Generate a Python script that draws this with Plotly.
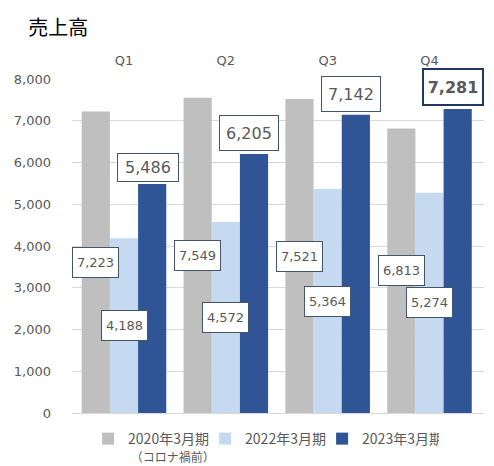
import plotly.graph_objs as go

# 売上高 by quarter (百万円)
quarters = ["Q1", "Q2", "Q3", "Q4"]
sales_2020 = [7223, 7549, 7521, 6813]
sales_2022 = [4188, 4572, 5364, 5274]
sales_2023 = [5486, 6205, 7142, 7281]
series_names = ["2020年3月期<br><span style='font-size:12px'> （コロナ禍前）</span>",
                "2022年3月期", "2023年3月期"]
y_ticks = [0, 1000, 2000, 3000, 4000, 5000, 6000, 7000, 8000]

colors = ["#BFBFBF", "#C5D9F1", "#2F5597"]
label_color = "#595959"
num_font = "Verdana, DejaVu Sans"
jp_font = "Noto Sans CJK JP"

fig = go.Figure()

for name, vals, col in zip(series_names, [sales_2020, sales_2022, sales_2023], colors):
    fig.add_trace(go.Bar(x=quarters, y=vals, name=name, marker_color=col,
                         marker_line_width=0, hoverinfo="skip"))

# label boxes: gray + light blue centred in bar, dark blue above bar
offsets = [-28.5, 0, 28.5]
for i, q in enumerate(quarters):
    for j, vals in enumerate([sales_2020, sales_2022]):
        fig.add_annotation(x=q, y=vals[i] / 2, xref="x", yref="y",
                           text="{:,}".format(vals[i]), showarrow=False,
                           xshift=offsets[j], width=45, height=29,
                           font=dict(family=num_font, size=13, color=label_color),
                           bgcolor="white", bordercolor="#44546A", borderwidth=1,
                           borderpad=0)
    last = i == len(quarters) - 1
    fig.add_annotation(x=q, y=sales_2023[i], xref="x", yref="y",
                       text=("<b>{:,}</b>" if last else "{:,}").format(sales_2023[i]),
                       showarrow=False, xshift=offsets[2] - 5, yanchor="bottom",
                       yshift=2 if i == 0 else 3, width=58 if i else 60,
                       height=27 if i == 0 else 34,
                       font=dict(family=num_font, size=16, color=label_color),
                       bgcolor="white", bordercolor="#1F3864" if last else "#44546A",
                       borderwidth=2 if last else 1, borderpad=0)

fig.update_layout(
    width=494, height=466,
    barmode="group", bargap=0.17, bargroupgap=0,
    paper_bgcolor="white", plot_bgcolor="white",
    margin=dict(l=72, r=10, t=79, b=53, autoexpand=False),
    font=dict(family=jp_font, color=label_color),
    title=dict(text="売上高", x=0.057, xanchor="left", y=0.94, yanchor="middle",
               font=dict(family=jp_font, size=20, color="black")),
    legend=dict(orientation="h", x=0.465, xanchor="center", y=-0.03, yanchor="top",
                font=dict(family=jp_font, size=14, color=label_color),
                itemwidth=30, traceorder="normal", valign="top",
                entrywidth=72, entrywidthmode="pixels"),
    showlegend=True,
)
fig.update_xaxes(side="top", showline=False, ticks="", showgrid=False,
                 automargin=False, ticklabelstandoff=10,
                 tickfont=dict(family=num_font, size=13, color=label_color))
fig.update_yaxes(range=[0, 8000], tickvals=y_ticks,
                 ticktext=["{:,}".format(v) for v in y_ticks],
                 showgrid=True, gridcolor="#D9D9D9", gridwidth=1,
                 zeroline=True, zerolinecolor="#D9D9D9", zerolinewidth=1,
                 ticks="", ticklabelstandoff=20, automargin=False,
                 tickfont=dict(family=num_font, size=13, color=label_color))

# page has a default 8px body margin; drop it so the figure sits at 0,0
fig.write_html("out.html", config={"displayModeBar": False},
               post_script="document.body.style.margin = '0';")
